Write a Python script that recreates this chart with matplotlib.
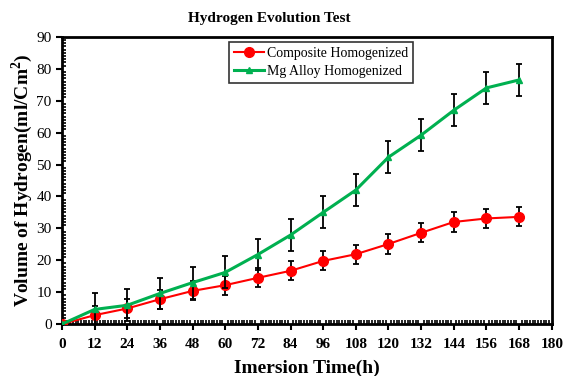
import numpy as np
import matplotlib.pyplot as plt
from matplotlib.ticker import MultipleLocator
from matplotlib.lines import Line2D

plt.rcParams['font.family'] = 'Liberation Serif'

hours = [0, 12, 24, 36, 48, 60, 72, 84, 96, 108, 120, 132, 144, 156, 168]
composite = [0, 2.8, 4.9, 7.8, 10.4, 12.2, 14.5, 16.7, 19.8, 21.9, 25.1, 28.6, 32.0, 33.1, 33.6]
composite_err = [0, 3, 3, 3, 3, 3, 3, 3, 3, 3, 3, 3, 3, 3, 3]
mg_alloy = [0, 4.6, 5.9, 9.6, 13.0, 16.2, 21.8, 27.9, 35.0, 42.0, 52.3, 59.2, 67.0, 74.0, 76.5]
mg_alloy_err = [0, 5, 5, 5, 5, 5, 5, 5, 5, 5, 5, 5, 5, 5, 5]

fig = plt.figure(figsize=(5.63, 3.76), dpi=100)
ax = fig.add_axes([0.110, 0.138, 0.870, 0.764])

ax.errorbar(hours, composite, yerr=composite_err, color='#ff0000', lw=1.5,
            marker='o', ms=7, ecolor='black', elinewidth=1.3, capsize=2.5,
            capthick=1.3, zorder=3)
ax.errorbar(hours, mg_alloy, yerr=mg_alloy_err, color='#00b050', lw=2.2,
            marker='^', ms=5, ecolor='black', elinewidth=1.3, capsize=2.5,
            capthick=1.3, zorder=4)

ax.set_xlim(0, 180)
ax.set_ylim(0, 90)
ax.xaxis.set_major_locator(MultipleLocator(12))
ax.xaxis.set_minor_locator(MultipleLocator(1))
ax.yaxis.set_major_locator(MultipleLocator(10))
ax.yaxis.set_minor_locator(MultipleLocator(1))
ax.tick_params(which='major', direction='out', length=4, width=1.5, labelsize=11)
ax.tick_params(axis='x', which='major', pad=6)
ax.tick_params(which='minor', direction='in', length=3, width=1.2)
for lab in ax.get_xticklabels():
    lab.set_fontweight('bold')
for s in ax.spines.values():
    s.set_linewidth(2)

fig.text(0.478, 0.952, 'Hydrogen Evolution Test', fontsize=11,
         fontweight='bold', ha='center', va='center')
ax.set_xlabel('Imersion Time(h)', fontsize=14, fontweight='bold', labelpad=6)
ax.set_ylabel('Volume of Hydrogen(ml/Cm$^\\mathregular{2}$)', fontsize=14,
              fontweight='bold', labelpad=1)

handles = [Line2D([], [], color='#ff0000', lw=1.5, marker='o', ms=7),
           Line2D([], [], color='#00b050', lw=2.2, marker='^', ms=5)]
leg = ax.legend(handles, ['Composite Homogenized', 'Mg Alloy Homogenized'],
                loc='upper left', bbox_to_anchor=(0.341, 0.983), borderaxespad=0,
                fontsize=10, frameon=True, fancybox=False, edgecolor='black',
                handlelength=2.2, handletextpad=0.2, borderpad=0.35,
                labelspacing=0.4)
leg.get_frame().set_linewidth(1.2)

fig.savefig('out.png', dpi=100)
